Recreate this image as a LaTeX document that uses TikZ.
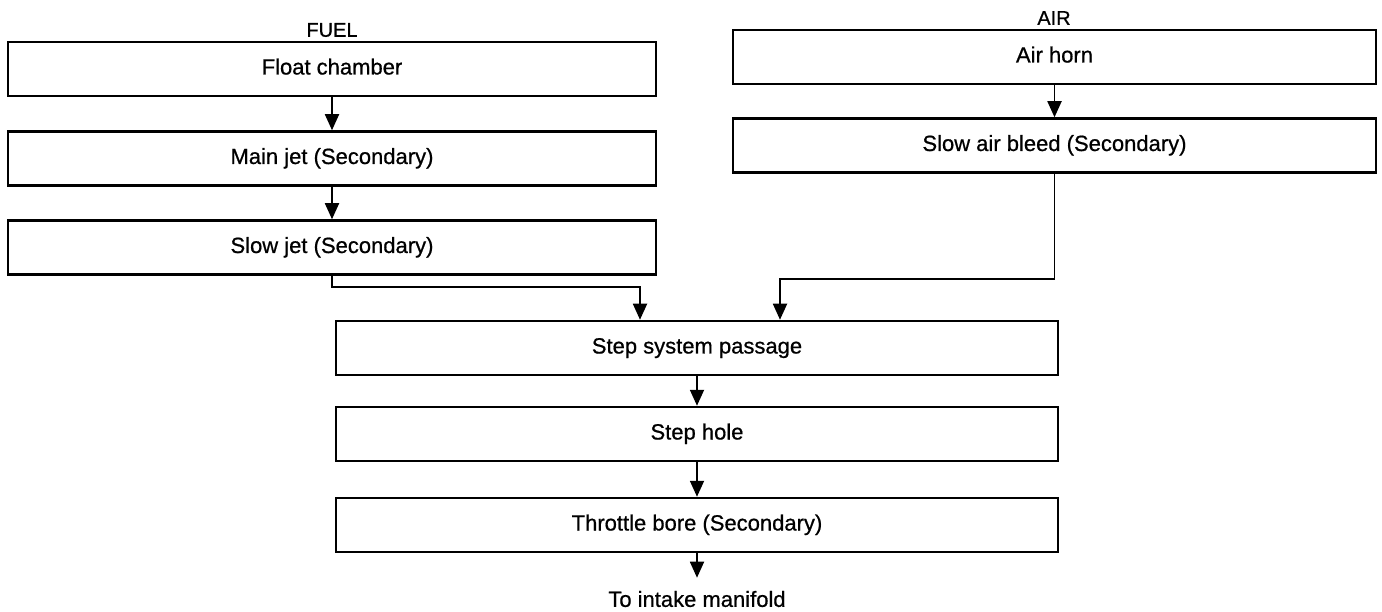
\documentclass[tikz,border=0pt]{standalone}
\usepackage{fontspec}
\setmainfont{Liberation Sans}
\newfontfamily\stagefont[FakeBold=0.7]{Liberation Sans}
\usetikzlibrary{arrows.meta}

\tikzset{
  stage/.style={draw, line width=2.5pt, inner sep=0pt, minimum height=54pt,
    text height=15pt, text depth=4pt, font=\stagefont\fontsize{22}{26}\selectfont},
  fuelbox/.style={stage, minimum width=648pt},
  airbox/.style={stage, minimum width=643pt},
  mixbox/.style={stage, minimum width=722pt},
  heading/.style={font=\stagefont\fontsize{20}{24}\selectfont},
  flow/.style={line width=1.8pt, -{Triangle[length=16pt,width=14pt]}}
}

\begin{document}
\begin{tikzpicture}[x=1pt, y=-1pt]
              \useasboundingbox (0,0) rectangle (1382,612);

              \node[heading] (fuel) at (332,30) {FUEL};
              \node[fuelbox] (float) at (332,69) {Float chamber};
              \node[fuelbox] (mainjet) at (332,158.5) {Main jet (Secondary)};
              \node[fuelbox] (slowjet) at (332,247.5) {Slow jet (Secondary)};

              \node[heading] (air) at (1054,18) {AIR};
              \node[airbox] (horn) at (1054.5,57) {Air horn};
              \node[airbox] (bleed) at (1054.5,145.5) {Slow air bleed (Secondary)};

              \node[mixbox] (step) at (697,348) {Step system passage};
              \node[mixbox] (hole) at (697,434) {Step hole};
              \node[mixbox] (throttle) at (697,525) {Throttle bore (Secondary)};
              \node[inner xsep=0pt, inner ysep=13pt, font=\stagefont\fontsize{22}{26}\selectfont]
                (manifold) at (697,599) {To intake manifold};

              \coordinate (fuelin) at (640,287);
              \coordinate (airin) at (780,279);

              \draw[flow] (float) -- (mainjet);
              \draw[flow] (mainjet) -- (slowjet);
              \draw[flow] (horn) -- (bleed);

              \draw[flow] (slowjet.south) |- (fuelin) -- (fuelin |- step.north);
              \draw[flow] (bleed.south) |- (airin) -- (airin |- step.north);

              \draw[flow] (step) -- (hole);
              \draw[flow] (hole) -- (throttle);
              \draw[flow] (throttle) -- (manifold);

          \end{tikzpicture}
\end{document}
